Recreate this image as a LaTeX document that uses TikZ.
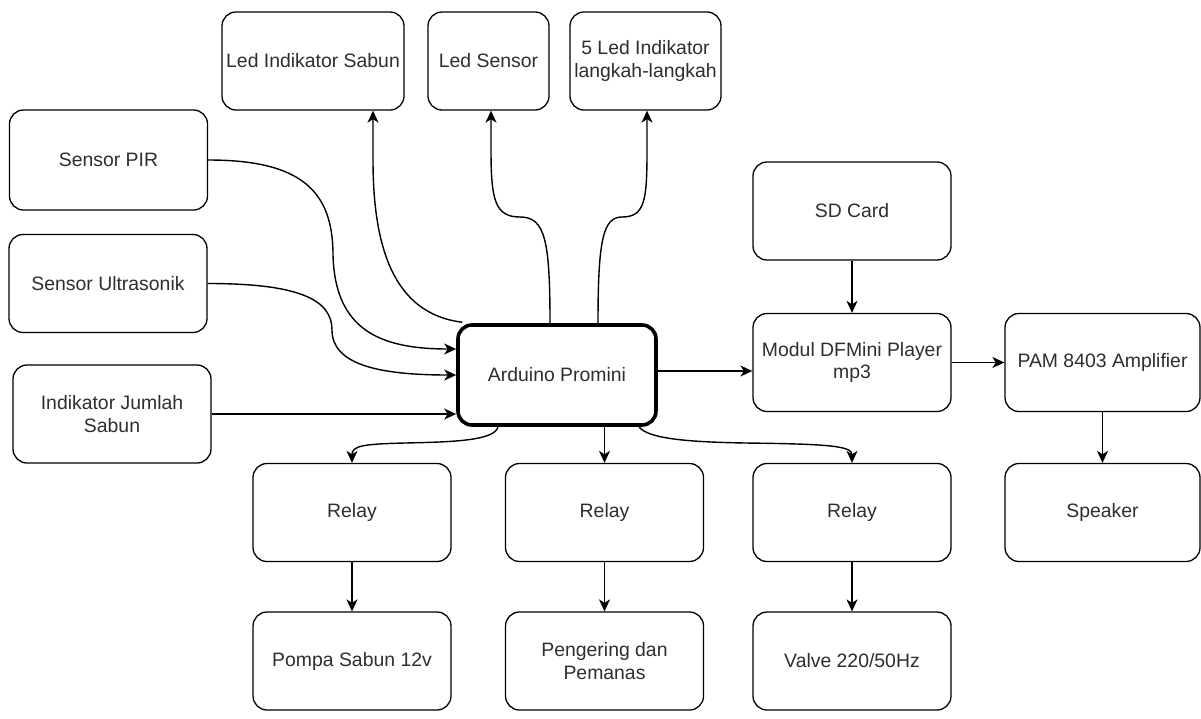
\documentclass[tikz,border=0pt]{standalone}
\usepackage{fontspec}
\setmainfont{Liberation Sans}
\usetikzlibrary{arrows.meta,calc}
\tikzset{
  box/.style={draw=black, line width=1.3pt, rounded corners=14pt, fill=white,
    minimum width=198pt, minimum height=98pt, align=center, inner sep=2pt,
    text=black!82, font=\fontsize{19.4}{22.5}\selectfont},
  mainbox/.style={box, line width=3.6pt, minimum height=100pt},
  arr/.style={draw=black, line width=1.4pt,
    -{Stealth[length=12pt,width=11pt,inset=3.5pt]}},
}
\begin{document}
\begin{tikzpicture}[x=1pt,y=-1pt]
\useasboundingbox (0,0) rectangle (1201,718);

% nodes
\node[box, minimum width=182pt] (ledsabun) at (313,61) {Led Indikator Sabun};
\node[box, minimum width=121pt] (ledsensor) at (488.5,61) {Led Sensor};
\node[box, minimum width=151pt] (fiveled) at (645.5,61) {5 Led Indikator\\langkah-langkah};

\node[box, minimum height=100pt] (pir) at (108.5,160) {Sensor PIR};
\node[box] (ultra) at (108,283.5) {Sensor Ultrasonik};
\node[box] (jumlah) at (112,414) {Indikator Jumlah\\Sabun};

\node[mainbox] (ard) at (557,375) {Arduino Promini};

\node[box] (sd) at (852,211) {SD Card};
\node[box] (modul) at (852,362.5) {Modul DFMini Player\\mp3};
\node[box, minimum width=195pt] (pam) at (1102.5,362.5) {PAM 8403 Amplifier};
\node[box, minimum width=195pt] (speaker) at (1102.5,512.5) {Speaker};

\node[box] (relay1) at (352,512.5) {Relay};
\node[box] (relay2) at (604.5,512.5) {Relay};
\node[box] (relay3) at (852,512.5) {Relay};

\node[box] (pompa) at (352,661) {Pompa Sabun 12v};
\node[box] (pengering) at (604.5,661) {Pengering dan\\Pemanas};
\node[box] (valve) at (852,661) {Valve 220/50Hz};

% helper coordinates
\coordinate (inPir) at ($(ard.west)+(0,-26)$);
\coordinate (inUltra) at (ard.west);
\coordinate (inJml) at (jumlah.east -| ard.west);
\coordinate (toSabun) at ($(ledsabun.south)+(60,0)$);
\coordinate (toSensor) at ($(ledsensor.south)+(2.5,0)$);
\coordinate (toFive) at ($(fiveled.south)+(1.5,0)$);
\coordinate (outSabun) at ($(ard.north west)+(6,-1)$);
\coordinate (outSensor) at ($(ard.north)+(-7,0)$);
\coordinate (outFive) at ($(ard.north)+(41,0)$);
\coordinate (outR1) at ($(ard.south)+(-59,0)$);
\coordinate (outR2) at (relay2.north |- ard.south);
\coordinate (outR3) at ($(ard.south)+(82,0)$);
\coordinate (outModul) at ($(ard.east)+(0,-4)$);

% inputs
\draw[arr] (pir.east) .. controls (300,160) and (333,190) .. (333,255)
  .. controls (335,330) and (380,349) .. (inPir);
\draw[arr] (ultra.east) .. controls (300,283.5) and (332,300) .. (332,330)
  .. controls (332,365) and (380,375) .. (inUltra);
\draw[arr] (jumlah.east) -- (inJml);

% outputs upward
\draw[arr] (outSabun) .. controls (395,314) and (373,250) .. (373,160) -- (toSabun);
\draw[arr] (outSensor) .. controls (550,240) and (545,217) .. (520,217)
  .. controls (495,217) and (491,200) .. (491,150) -- (toSensor);
\draw[arr] (outFive) .. controls (598,240) and (603,217) .. (622,217)
  .. controls (645,217) and (647,200) .. (647,150) -- (toFive);

% right chain
\draw[arr] (outModul) -- (outModul -| modul.west);
\draw[arr] (sd.south) -- (modul.north);
\draw[arr] (modul.east) -- (pam.west);
\draw[arr] (pam.south) -- (speaker.north);

% relays
\draw[arr] (outR1) .. controls (495,441) and (450,442) .. (405,443)
  .. controls (362,444) and (352,446) .. (relay1.north);
\draw[arr] (outR2) -- (relay2.north);
\draw[arr] (outR3) .. controls (648,439) and (690,442) .. (745,443)
  .. controls (830,444) and (852,446) .. (relay3.north);

\draw[arr] (relay1.south) -- (pompa.north);
\draw[arr] (relay2.south) -- (pengering.north);
\draw[arr] (relay3.south) -- (valve.north);
\end{tikzpicture}
\end{document}
